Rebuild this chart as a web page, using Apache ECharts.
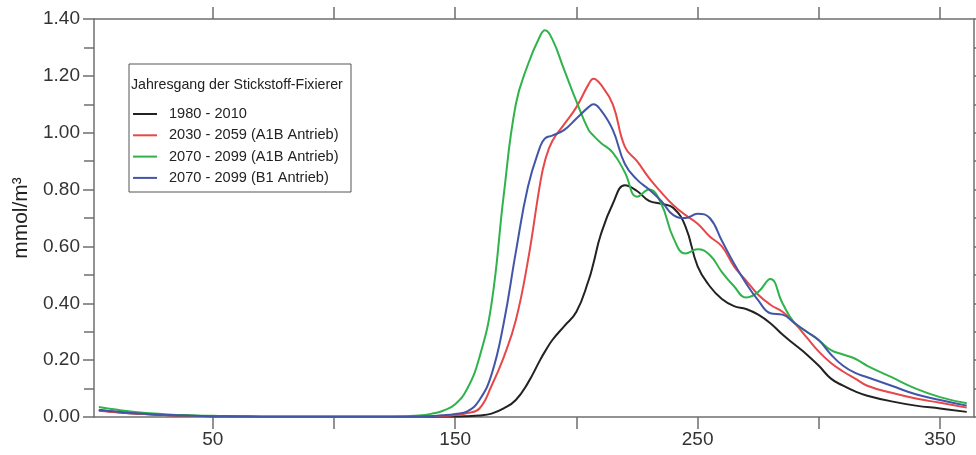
<!DOCTYPE html>
<html>
<head>
<meta charset="utf-8">
<script src="https://cdn.jsdelivr.net/npm/echarts@6/dist/echarts.min.js"></script>
<style>
  html, body { margin: 0; padding: 0; background: #fff; }
  #chart { width: 976px; height: 455px; }
</style>
</head>
<body>
<div id="chart"></div>
<script>
// day of year
const days = [3, 10, 20, 30, 40, 50, 60, 70, 80, 90, 100, 110, 120, 130, 135, 140, 145, 150, 155, 160,
  165, 170, 175, 180, 185, 187, 190, 195, 200, 205, 207, 210, 215, 220, 225, 230, 235, 240, 245, 250,
  255, 260, 265, 270, 275, 280, 285, 290, 295, 300, 305, 310, 315, 320, 330, 340, 350, 361];

const black1980 = [0.025, 0.018, 0.011, 0.007, 0.004, 0.003, 0.002, 0.001, 0.001, 0.001, 0.001, 0.001, 0.001, 0.001, 0.001, 0.001, 0.002, 0.002, 0.003, 0.005,
  0.012, 0.03, 0.06, 0.12, 0.2, 0.23, 0.27, 0.32, 0.37, 0.48, 0.54, 0.64, 0.75, 0.815, 0.795, 0.76, 0.75, 0.735, 0.67, 0.53,
  0.46, 0.415, 0.39, 0.38, 0.36, 0.33, 0.29, 0.255, 0.22, 0.18, 0.135, 0.11, 0.09, 0.075, 0.055, 0.04, 0.03, 0.018];

const redA1B2030 = [0.022, 0.017, 0.011, 0.007, 0.004, 0.003, 0.002, 0.001, 0.001, 0.001, 0.001, 0.001, 0.001, 0.001, 0.001, 0.002, 0.004, 0.007, 0.014, 0.03,
  0.11, 0.21, 0.34, 0.55, 0.82, 0.9, 0.97, 1.03, 1.09, 1.17, 1.19, 1.17, 1.1, 0.95, 0.9, 0.84, 0.79, 0.745, 0.71, 0.68,
  0.635, 0.6, 0.53, 0.48, 0.43, 0.395, 0.37, 0.33, 0.28, 0.23, 0.19, 0.16, 0.135, 0.11, 0.085, 0.065, 0.05, 0.033];

const greenA1B2070 = [0.035, 0.026, 0.016, 0.01, 0.006, 0.004, 0.002, 0.001, 0.001, 0.001, 0.001, 0.001, 0.001, 0.003, 0.005, 0.011, 0.022, 0.045, 0.1, 0.21,
  0.4, 0.78, 1.1, 1.24, 1.34, 1.36, 1.33, 1.22, 1.11, 1.01, 0.99, 0.965, 0.93, 0.86, 0.775, 0.8, 0.75, 0.63, 0.575, 0.59,
  0.57, 0.51, 0.46, 0.42, 0.44, 0.485, 0.4, 0.33, 0.3, 0.27, 0.235, 0.22, 0.205, 0.18, 0.14, 0.1, 0.07, 0.048];

const blueB12070 = [0.025, 0.019, 0.012, 0.008, 0.005, 0.003, 0.002, 0.001, 0.001, 0.001, 0.001, 0.001, 0.001, 0.001, 0.002, 0.003, 0.006, 0.011, 0.02, 0.06,
  0.15, 0.33, 0.58, 0.81, 0.95, 0.98, 0.99, 1.01, 1.05, 1.09, 1.1, 1.08, 1.01, 0.89, 0.835, 0.8, 0.76, 0.71, 0.7, 0.715,
  0.7, 0.62, 0.54, 0.47, 0.41, 0.365, 0.36, 0.33, 0.3, 0.27, 0.22, 0.18, 0.155, 0.14, 0.11, 0.08, 0.06, 0.04];

const seriesNames = ['1980 - 2010', '2030 - 2059 (A1B Antrieb)', '2070 - 2099 (A1B Antrieb)', '2070 - 2099 (B1 Antrieb)'];
const seriesValues = [black1980, redA1B2030, greenA1B2070, blueB12070];
const seriesColors = ['#222222', '#e8474a', '#2fb34a', '#4256a8'];

const xTicks = [50, 100, 150, 200, 250, 300, 350];
const xLabels = [50, 150, 250, 350];

const font = '"Liberation Sans", Arial, sans-serif';
const axisGray = '#6f6f6f';

var chart = echarts.init(document.getElementById('chart'));

var option = {
  animation: false,
  color: seriesColors,
  grid: { left: 94, right: 2, top: 19, bottom: 38 },
  graphic: [
    {
      type: 'rect',
      shape: { x: 129, y: 64, width: 222, height: 128 },
      style: { fill: '#fff', stroke: '#555', lineWidth: 1 },
      z: 10
    },
    {
      type: 'text',
      x: 131, y: 85,
      style: {
        text: 'Jahresgang der Stickstoff-Fixierer',
        font: '14.2px ' + font,
        fill: '#222',
        verticalAlign: 'middle'
      },
      z: 11
    }
  ],
  legend: {
    orient: 'vertical',
    left: 133,
    top: 106,
    padding: 0,
    icon: 'rect',
    itemWidth: 24,
    itemHeight: 2,
    itemGap: 5.3,
    z: 12,
    textStyle: { fontFamily: font, fontSize: 14.6, color: '#222', lineHeight: 16, padding: [0, 0, 0, 7] },
    data: seriesNames
  },
  xAxis: [
    {
      type: 'value', position: 'bottom', min: 1, max: 364,
      axisLine: { show: true, onZero: false, lineStyle: { color: axisGray, width: 1.5 } },
      axisTick: { show: true, inside: false, length: 12, customValues: xTicks, lineStyle: { color: axisGray, width: 1.5 } },
      axisLabel: { customValues: xLabels, margin: 13, fontFamily: font, fontSize: 19, color: '#333' },
      splitLine: { show: false }
    },
    {
      type: 'value', position: 'top', min: 1, max: 364,
      axisLine: { show: true, onZero: false, lineStyle: { color: axisGray, width: 1.5 } },
      axisTick: { show: true, inside: false, length: 12, customValues: xTicks, lineStyle: { color: axisGray, width: 1.5 } },
      axisLabel: { show: false },
      splitLine: { show: false }
    }
  ],
  yAxis: [
    {
      type: 'value', position: 'left', min: 0, max: 1.4, interval: 0.2,
      name: 'mmol/m³', nameLocation: 'middle', nameRotate: 90, nameGap: 61,
      nameTextStyle: { fontFamily: font, fontSize: 21, color: '#222' },
      axisLine: { show: true, onZero: false, lineStyle: { color: axisGray, width: 1.5 } },
      axisTick: { show: true, inside: false, length: 11, lineStyle: { color: axisGray, width: 1.5 } },
      minorTick: { show: true, splitNumber: 2, length: 10, lineStyle: { color: axisGray, width: 1.5 } },
      axisLabel: { margin: 14, fontFamily: font, fontSize: 19, color: '#333', formatter: v => v.toFixed(2) },
      splitLine: { show: false }
    },
    {
      type: 'value', position: 'right', min: 0, max: 1.4, interval: 0.1,
      axisLine: { show: true, onZero: false, lineStyle: { color: axisGray, width: 1.5 } },
      axisTick: { show: true, inside: false, length: 6, lineStyle: { color: axisGray, width: 1.5 } },
      axisLabel: { show: false },
      splitLine: { show: false }
    }
  ],
  series: seriesNames.map((name, k) => ({
    name: name,
    type: 'line',
    xAxisIndex: 0,
    yAxisIndex: 0,
    smooth: 0.45,
    showSymbol: false,
    lineStyle: { width: 2, color: seriesColors[k] },
    data: days.map((d, i) => [d, seriesValues[k][i]])
  }))
};

chart.setOption(option);
</script>
</body>
</html>
